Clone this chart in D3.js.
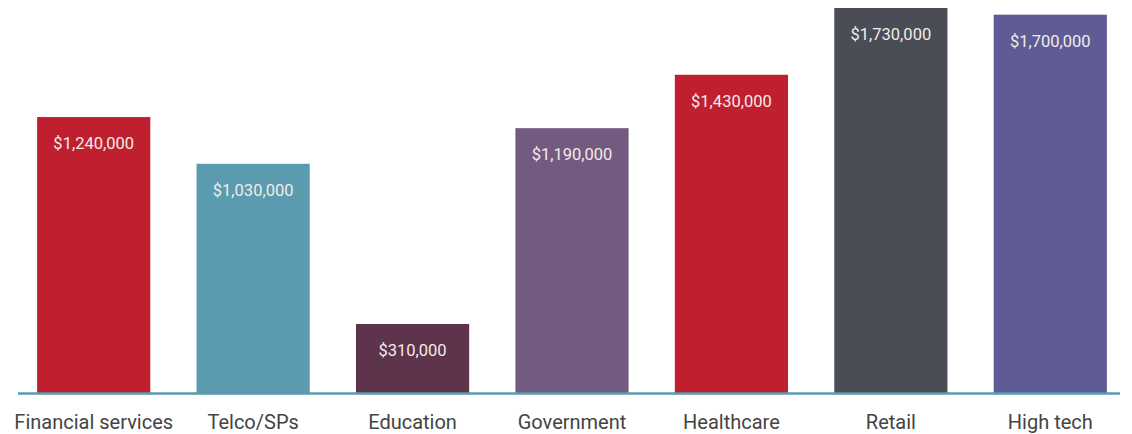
<!DOCTYPE html>
<html><head><meta charset="utf-8">
<script src="https://cdn.jsdelivr.net/npm/d3@7"></script>
<style>body{margin:0;background:#fff;}svg{display:block;}</style>
</head><body>
<svg id="chart" width="1132" height="434"></svg>
<script>
const categories = ["Financial services","Telco/SPs","Education","Government","Healthcare","Retail","High tech"];
const values = [1240000,1030000,310000,1190000,1430000,1730000,1700000];
const colors = ["#c01f2f","#5b9bb0","#5e344c","#735a80","#c01f2f","#4a4d55","#5f5b95"];

const svg = d3.select("#chart");
const baseY = 393;
const x = d3.scaleBand().domain(categories).range([14, 1130]).paddingInner(0.29).paddingOuter(0.145);
const y = d3.scaleLinear().domain([0, 1730000]).range([baseY, 8]);
const fmt = v => "$" + d3.format(",")(v);

svg.selectAll("rect.bar").data(categories).join("rect")
  .attr("class","bar")
  .attr("x", d => x(d))
  .attr("width", x.bandwidth())
  .attr("y", (d,i) => y(values[i]))
  .attr("height", (d,i) => baseY - y(values[i]))
  .attr("fill", (d,i) => colors[i]);

svg.selectAll("text.val").data(categories).join("text")
  .attr("class","val")
  .attr("x", d => x(d) + x.bandwidth()/2)
  .attr("y", (d,i) => y(values[i]) + 32)
  .attr("text-anchor","middle")
  .attr("font-family","Roboto, sans-serif")
  .attr("font-size", 16.5)
  .attr("fill","#f2ece6")
  .text((d,i) => fmt(values[i]));

const axis = d3.axisBottom(x).tickSize(0).tickPadding(22);
const g = svg.append("g").attr("transform", `translate(0,${baseY})`).call(axis);
g.select(".domain").attr("stroke","#5b9bb0").attr("stroke-width",2.5).attr("d","M18,0.5H1120");
g.selectAll("text").attr("font-family","Roboto, sans-serif").attr("font-size",20).attr("fill","#444");
</script>
</body></html>
